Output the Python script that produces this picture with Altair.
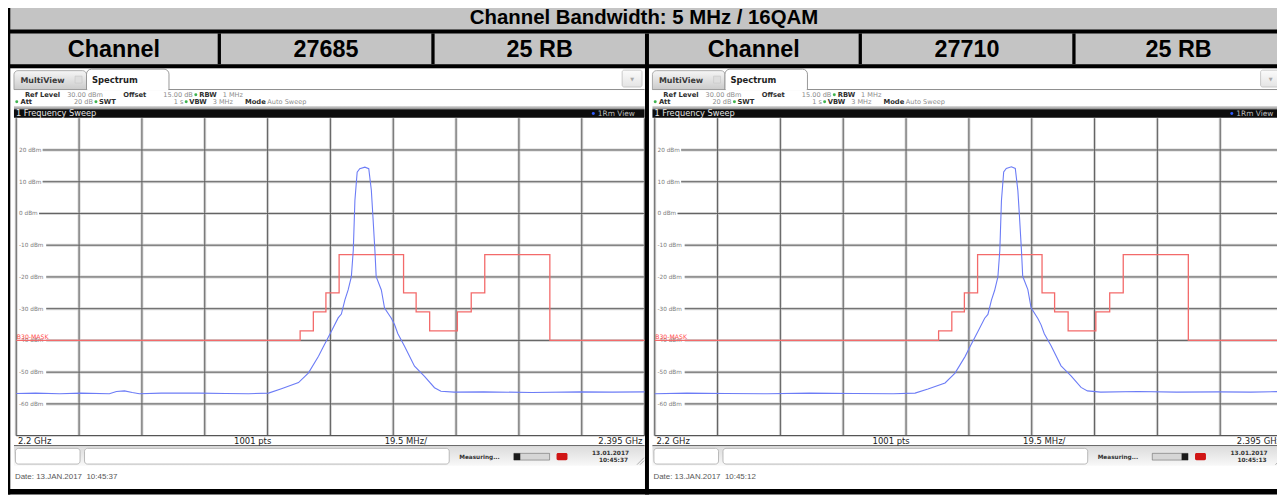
import altair as alt
import pandas as pd

W, H, M = 1285, 496, 8  # page size and page margin

# ---------------- data ----------------
TITLE = "Channel Bandwidth: 5 MHz / 16QAM"
HEAD_CELLS = ["Channel", "27685", "25 RB", "Channel", "27710", "25 RB"]

F_START, F_STOP, F_DIV = 2200.0, 2395.0, 19.5  # MHz
REF_TOP, REF_BOT = 30, -70                     # dBm
Y_LEVELS = [20, 10, 0, -10, -20, -30, -40, -50, -60]
Y_LABELS = ["20 dBm", "10 dBm", "0 dBm", "-10 dBm", "-20 dBm",
            "-30 dBm", "-40 dBm", "-50 dBm", "-60 dBm"]
X_LABELS = ["2.2 GHz", "1001 pts", "19.5 MHz/", "2.395 GHz"]

MASK_NAME = "B30-MASK"
MASK_F = [2200.0, 2288.1, 2292.2, 2296.1, 2300.2, 2320.2, 2324.1, 2328.3,
          2336.9, 2341.2, 2345.4, 2365.6, 2395.0]
MASK_L = [-40, -37, -31, -25, -13, -25, -31, -37, -31, -25, -13, -40, -40]

TRACE1_F = [2200.0, 2206.0, 2213.5, 2220.0, 2228.9, 2231.1, 2233.6, 2236.0, 2238.2,
            2245.0, 2256.7, 2265.0, 2272.1, 2278.3, 2282.3, 2287.6, 2290.7, 2293.8,
            2295.1, 2297.8, 2299.9, 2300.9, 2302.0, 2303.0, 2304.0, 2304.6, 2305.1,
            2305.8, 2306.6, 2308.2, 2309.4, 2310.2, 2310.7, 2311.3, 2311.7, 2313.3,
            2314.3, 2316.4, 2317.4, 2318.4, 2320.5, 2323.6, 2326.7, 2329.8, 2331.8,
            2335.9, 2345.0, 2360.0, 2375.0, 2385.0, 2395.0]
TRACE1_L = [-56.7, -56.6, -56.8, -56.6, -56.8, -56.1, -55.9, -56.4, -56.8,
            -56.6, -56.6, -56.7, -56.8, -56.6, -55.2, -53.3, -50.2, -45.0,
            -42.4, -37.1, -32.9, -31.7, -27.2, -24.1, -19.9, -11.5, 4.1,
            13.0, 14.1, 14.6, 14.1, 7.3, -1.1, -11.5, -19.9, -24.1,
            -29.8, -33.0, -35.0, -37.8, -41.8, -48.1, -51.3, -54.9, -56.0,
            -56.3, -56.2, -56.4, -56.2, -56.3, -56.2]

TRACE2_F = [2200.0, 2210.0, 2222.0, 2235.0, 2248.0, 2262.0, 2274.0, 2280.8, 2284.8,
            2290.1, 2293.2, 2296.3, 2297.6, 2300.3, 2302.4, 2303.4, 2304.5, 2305.5,
            2306.5, 2307.1, 2307.6, 2308.3, 2309.1, 2310.7, 2311.9, 2312.7, 2313.2,
            2313.8, 2314.2, 2315.8, 2316.8, 2318.9, 2319.9, 2320.9, 2323.0, 2326.1,
            2329.2, 2332.3, 2334.3, 2338.4, 2350.0, 2362.0, 2375.0, 2385.0, 2395.0]
TRACE2_L = [-56.8, -56.6, -56.7, -56.8, -56.6, -56.7, -56.8, -56.6, -55.3,
            -53.4, -50.3, -45.1, -42.5, -37.2, -33.0, -31.8, -27.3, -24.2,
            -20.0, -11.6, 4.0, 13.1, 14.2, 14.7, 14.2, 7.2, -1.0,
            -11.4, -19.8, -24.0, -29.7, -33.1, -35.1, -37.9, -41.7, -48.0,
            -51.2, -54.8, -55.9, -56.3, -56.1, -56.3, -56.2, -56.3, -56.1]

SET_LABELS = ["Ref Level", "Offset", "RBW", "Att", "SWT", "VBW", "Mode"]
SET_VALUES = ["30.00 dBm", "15.00 dB", "1 MHz", "20 dB", "1 s", "3 MHz", "Auto Sweep"]
DATES = ["Date: 13.JAN.2017\u00a0 10:45:37", "Date: 13.JAN.2017\u00a0 10:45:12"]
STAMP_DATE = ["13.01.2017", "13.01.2017"]
STAMP_TIME = ["10:45:37", "10:45:13"]

# ---------------- helpers ----------------
PX = alt.Scale(domain=[0, W], range=[-M, W - M])
PY = alt.Scale(domain=[0, H], range=[-M, H - M])
SANS = "DejaVu Sans"
ARIAL = "Liberation Sans"


def _box(ch):
    return ch.encode(
        x=alt.X("x:Q", scale=PX, axis=None), x2="x2:Q",
        y=alt.Y("y:Q", scale=PY, axis=None), y2="y2:Q")


def rects(rows, **mk):
    return _box(alt.Chart(pd.DataFrame(rows, columns=["x", "y", "x2", "y2"])).mark_rect(**mk))


def segs(rows, **mk):
    return _box(alt.Chart(pd.DataFrame(rows, columns=["x", "y", "x2", "y2"])).mark_rule(**mk))


def texts(rows, **mk):
    mk.setdefault("align", "left")
    mk.setdefault("baseline", "alphabetic")
    df = pd.DataFrame(rows, columns=["x", "y", "t"])
    return alt.Chart(df).mark_text(**mk).encode(
        x=alt.X("x:Q", scale=PX, axis=None),
        y=alt.Y("y:Q", scale=PY, axis=None),
        text="t:N")


def dots(rows, **mk):
    df = pd.DataFrame(rows, columns=["x", "y"])
    return alt.Chart(df).mark_circle(**mk).encode(
        x=alt.X("x:Q", scale=PX, axis=None),
        y=alt.Y("y:Q", scale=PY, axis=None))


def vgrad(c1, c2):
    return alt.Gradient(gradient="linear", x1=0, y1=0, x2=0, y2=1,
                        stops=[alt.GradientStop(color=c1, offset=0),
                               alt.GradientStop(color=c2, offset=1)])


def panel(i, dx, tf, tl, dark_block):
    P = []

    def X(v):
        return v + dx

    R = X(648.6)
    # ---- tabs ----
    P.append(segs([(X(14), 88.5, R, 88.5)], color="#8e8e8e", strokeWidth=1))
    P.append(rects([(X(14), 69.5, X(87), 88.5)], fill=vgrad("#f6f6f6", "#cbcbcb"),
                   stroke="#9a9a9a", strokeWidth=0.8, cornerRadiusTopLeft=4, cornerRadiusTopRight=4))
    P.append(rects([(X(75.5), 75, X(82.5), 82)], fill="#dedede", stroke="#c6c6c6", strokeWidth=0.6))
    P.append(rects([(X(87), 68, X(170), 88.5)],
                   fill="white", stroke="#8e8e8e", strokeWidth=0.9,
                   cornerRadiusTopLeft=5, cornerRadiusTopRight=5))
    P.append(segs([(X(87.7), 88.5, X(169.3), 88.5)], color="white", strokeWidth=1.6))
    P.append(rects([(X(626), 69, X(646), 86)], fill=vgrad("#fbfbfb", "#e4e4e4"),
                   stroke="#bdbdbd", strokeWidth=0.8, cornerRadius=2))
    P.append(texts([(X(636), 77.8, "\u25bc")], font=SANS, fontSize=5, color="#a8a8a8",
                   align="center", baseline="middle"))
    P.append(texts([(X(20.5), 81.8, "MultiView")], font=SANS, fontSize=8, fontWeight="bold", color="#3a3a3a"))
    P.append(texts([(X(92.5), 81.8, "Spectrum")], font=SANS, fontSize=8.5, fontWeight="bold", color="#1e1e1e"))
    # ---- settings ----
    lab_pos = [(25, 96), (124, 96), (200.5, 96), (20.5, 103), (99.5, 103), (190.5, 103), (246.5, 103)]
    P.append(texts([(X(p[0]), p[1], t) for p, t in zip(lab_pos, SET_LABELS)],
                   font=SANS, fontSize=6.8, fontWeight="bold", color="#2e2e2e"))
    val_pos = [(67.5, 96, "left"), (194, 96, "right"), (224, 96, "left"), (93.5, 103, "right"),
               (184.5, 103, "right"), (214, 103, "left"), (269, 103, "left")]
    for (x, y, a), t in zip(val_pos, SET_VALUES):
        P.append(texts([(X(x), y, t)], font=SANS, fontSize=6.6, color="#8c8c8c", align=a))
    P.append(dots([(X(197), 93.8), (X(16.8), 100.8), (X(96.5), 100.8), (X(187.3), 100.8)],
                  size=9, color="#3fb34f", opacity=1))
    # ---- sweep bar ----
    P.append(rects([(X(14), 105.2, R, 108.3)], fill=vgrad("#dcdcdc", "#8a8a8a")))
    P.append(rects([(X(14), 108.3, R, 116.9)], fill="#0d0d0d"))
    P.append(texts([(X(16), 112.8, "1 Frequency Sweep")], font=SANS, fontSize=8.3,
                   color="#e6e6e6", baseline="middle"))
    P.append(dots([(X(597), 112.6)], size=9, color="#2f5bff", opacity=1))
    P.append(texts([(X(601.5), 112.8, "1Rm View")], font=SANS, fontSize=7.5,
                   color="#bdbdbd", baseline="middle"))

    # ---- plot through frequency / level scales ----
    FX = alt.Scale(domain=[F_START, F_STOP], range=[16.3 + dx - M, 648.6 + dx - M])
    FY = alt.Scale(domain=[REF_BOT, REF_TOP], range=[436.8 - M, 117.4 - M])

    def ax(f):
        return alt.X(f, scale=FX, axis=None)

    def ay(f):
        return alt.Y(f, scale=FY, axis=None)

    vg = pd.DataFrame({"f": [F_START + k * F_DIV for k in range(11)], "top": REF_TOP, "bot": REF_BOT})
    gap = [(2.8 + len(t) * 0.62 * 5.8 + 2.2) * (F_STOP - F_START) / 632.3 for t in Y_LABELS]
    hg = pd.DataFrame({"lvl": Y_LEVELS, "fs": [F_START + g for g in gap], "fe": F_STOP})
    for c, w in (("#d6d6d6", 3), ("#5e5e5e", 1)):
        P.append(alt.Chart(vg).mark_rule(color=c, strokeWidth=w).encode(
            x=ax("f:Q"), y=ay("top:Q"), y2="bot:Q"))
        P.append(alt.Chart(hg).mark_rule(color=c, strokeWidth=w).encode(
            x=ax("fs:Q"), x2="fe:Q", y=ay("lvl:Q")))
    bot = pd.DataFrame({"lvl": [REF_BOT], "fs": [F_START], "fe": [F_STOP]})
    P.append(alt.Chart(bot).mark_rule(color="#555555", strokeWidth=1.2).encode(
        x=ax("fs:Q"), x2="fe:Q", y=ay("lvl:Q")))
    lab = pd.DataFrame({"f": F_START, "lvl": Y_LEVELS, "t": Y_LABELS})
    P.append(alt.Chart(lab).mark_text(font=SANS, fontSize=5.8, color="#7c7c7c", align="left",
                                      baseline="middle", dx=2.8).encode(
        x=ax("f:Q"), y=ay("lvl:Q"), text="t:N"))
    mk = pd.DataFrame({"f": MASK_F, "l": MASK_L})
    P.append(alt.Chart(mk).mark_line(color="#f36a6a", strokeWidth=1.3, interpolate="step-after").encode(
        x=ax("f:Q"), y=ay("l:Q")))
    P.append(alt.Chart(pd.DataFrame({"f": [F_START], "l": [-40], "t": [MASK_NAME]})).mark_text(
        font=SANS, fontSize=6.2, color="#ff4b4b", align="left", baseline="middle", dy=-3.5, dx=0.5).encode(
        x=ax("f:Q"), y=ay("l:Q"), text="t:N"))
    tr = pd.DataFrame({"f": tf, "l": tl})
    P.append(alt.Chart(tr).mark_line(color="#6c7cf6", strokeWidth=1.1).encode(
        x=ax("f:Q"), y=ay("l:Q")))

    # ---- bottom strip ----
    P.append(texts([(X(18), 445.2, X_LABELS[0]), (X(235.5), 445.2, X_LABELS[1]),
                    (X(387), 445.2, X_LABELS[2])], font=SANS, fontSize=8.5, color="#1c1c1c"))
    P.append(texts([(X(646.5), 445.2, X_LABELS[3])], font=SANS, fontSize=8.5, color="#1c1c1c", align="right"))
    P.append(segs([(X(14), 447, R, 447)], color="#3a3a3a", strokeWidth=1.2))
    P.append(rects([(X(14), 447.6, R, 467)], fill=vgrad("#dcdcdc", "#f8f8f8")))
    P.append(rects([(X(15.5), 449.6, X(80.5), 465.4), (X(85), 449.6, X(452), 465.4)],
                   fill="white", stroke="#a9a9a9", strokeWidth=0.8, cornerRadius=3))
    P.append(texts([(X(462), 458.2, "Measuring...")], font=SANS, fontSize=5.8, fontWeight="bold",
                   color="#333333", baseline="middle"))
    P.append(rects([(X(517), 454.6, X(553), 461.4)], fill="#d6d6d6", stroke="#6a6a6a", strokeWidth=0.6))
    P.append(rects([(X(dark_block[0]), 454.6, X(dark_block[1]), 461.4)], fill="#1a1a1a"))
    P.append(rects([(X(560), 454.3, X(571), 461.5)], fill="#d01515", cornerRadius=1.5))
    P.append(texts([(X(633), 454.6, STAMP_DATE[i]), (X(632), 461.6, STAMP_TIME[i])], font=SANS,
                   fontSize=5.9, fontWeight="bold", color="#333333", align="right", baseline="middle"))
    P.append(segs([(X(641), 466, X(648), 459), (X(644), 466, X(648), 462)], color="#9a9a9a", strokeWidth=0.8))
    P.append(texts([(X(15), 478.8, DATES[i])], font=ARIAL, fontSize=8, color="#585858", baseline="middle"))
    return P


# ---------------- build ----------------
layers = []
layers.append(rects([(0, 0, W, 67)], fill="#c4c4c4"))
layers += panel(0, 0.0, TRACE1_F, TRACE1_L, (517, 523.5))
layers += panel(1, 642.5, TRACE2_F, TRACE2_L, (546.5, 553))

# table rules
layers.append(rects([(0, 28, W, 32), (0, 63, W, 67), (0, 490.6, W, H), (3, 0, 10.3, H),
                     (219, 32, 222.3, 63), (434, 32, 437.3, 63), (649, 32, 653, H),
                     (864, 32, 867.3, 63), (1079, 32, 1082.3, 63)], fill="black"))
layers.append(texts([(648, 16.8, TITLE)], font=ARIAL, fontSize=20.5, fontWeight="bold",
                    color="black", align="center", baseline="middle"))
centers = [114.5, 328, 543, 758.5, 973, 1186]
layers.append(texts([(c, 48.5, t) for c, t in zip(centers, HEAD_CELLS)], font=ARIAL, fontSize=23.5,
                    fontWeight="bold", color="black", align="center", baseline="middle"))

chart = alt.layer(*layers).resolve_scale(x="independent", y="independent").properties(
    width=W - M, height=H - M, autosize=alt.AutoSizeParams(type="none"), padding=0,
    background="white").configure_view(stroke=None)

chart.save("out.html", embed_options={"renderer": "svg", "actions": False})
